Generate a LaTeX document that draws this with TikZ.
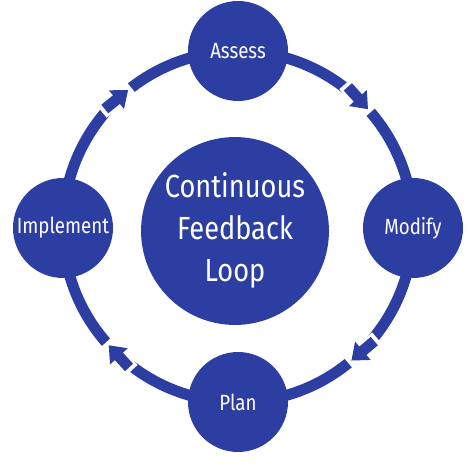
\documentclass[tikz,border=0pt]{standalone}
\usepackage{fontspec}
\setmainfont{Fira Sans}[FakeStretch=0.85]
\usepackage{tikz}
\usetikzlibrary{decorations.markings,backgrounds}
\definecolor{loopblue}{RGB}{44,62,162}
\newcommand{\flowarrow}{%
  \fill[white] (-34,-8) rectangle (4,8);
  \fill[loopblue] (-30,-5.5) rectangle (-13,5.5);
  \fill[loopblue] (-15,-12) -- (0,0) -- (-15,12) -- cycle;
}

\begin{document}
\begin{tikzpicture}[x=1pt,y=1pt,
  stage/.style={circle,fill=loopblue,text=white,minimum size=100pt,inner sep=0pt,font=\fontsize{22}{26}\selectfont},
  hub/.style={circle,fill=loopblue,text=white,minimum size=184pt,inner sep=0pt,align=center,font=\fontsize{32}{42}\selectfont},
  ring/.style={draw=loopblue,line width=11pt,postaction={decorate,decoration={markings,mark=at position #1 with {\flowarrow}}}}]
\useasboundingbox (0,0) rectangle (474,474);
\node[hub] (hub) at (235,243) {\raisebox{8pt}{\begin{tabular}{@{}c@{}}Continuous\\Feedback\\Loop\end{tabular}}};
\node[stage] (assess) at (238,423) {Assess};
\node[stage] (modify) at (413,246) {Modify};
\node[stage] (plan) at (238,72) {Plan};
\node[stage] (implement) at (63,246) {Implement};
\begin{scope}[on background layer]
\draw[ring=0.57] (implement.center) to[bend left=45] (assess.center);
\draw[ring=0.53] (assess.center) to[bend left=45] (modify.center);
\draw[ring=0.55] (modify.center) to[bend left=45] (plan.center);
\draw[ring=0.53] (plan.center) to[bend left=45] (implement.center);
\end{scope}
\end{tikzpicture}
\end{document}
